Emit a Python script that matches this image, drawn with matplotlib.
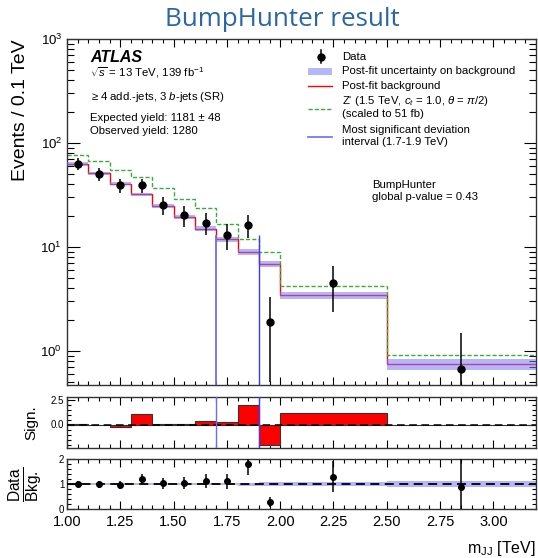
import numpy as np
import matplotlib
matplotlib.use("Agg")
import matplotlib.pyplot as plt
from matplotlib.lines import Line2D
from matplotlib.patches import Rectangle
from matplotlib.ticker import MultipleLocator, FormatStrFormatter, LogLocator, NullFormatter

plt.rcParams['font.family'] = ['Liberation Sans', 'DejaVu Sans']
plt.rcParams['mathtext.fontset'] = 'custom'
plt.rcParams['mathtext.rm'] = 'Liberation Sans'
plt.rcParams['mathtext.it'] = 'Liberation Sans:italic'
plt.rcParams['mathtext.bf'] = 'Liberation Sans:bold'

# binning (TeV)
edges = [1.0, 1.1, 1.2, 1.3, 1.4, 1.5, 1.6, 1.7, 1.8, 1.9, 2.0, 2.5, 3.2]
# post-fit background, events / 0.1 TeV
bkg = [63, 51, 40.7, 32, 24.8, 19.4, 15.0, 11.8, 8.95, 6.9, 3.43, 0.75]
bkg_rel_unc = [0.04, 0.04, 0.04, 0.04, 0.045, 0.05, 0.05, 0.055, 0.06, 0.07, 0.07, 0.12]
# Z' + background
zprime = [76, 67, 55.5, 47, 37, 29, 23.9, 16.5, 11.8, 8.9, 4.19, 0.92]
# data
data_x = [1.05, 1.15, 1.25, 1.35, 1.45, 1.55, 1.65, 1.75, 1.85, 1.95, 2.25, 2.85]
data = [63, 50, 39, 39, 25.3, 20.2, 17, 13, 16.2, 1.9, 4.45, 0.67]
data_err = [8.0, 7.1, 6.2, 6.2, 5.0, 4.5, 4.1, 3.6, 4.0, 1.4, 2.1, 0.82]
# significance per bin
significance = [0.1, -0.03, -0.2, 1.05, 0.02, 0.04, 0.33, 0.22, 1.95, -2.05, 1.12, -0.03]
# most significant deviation interval
bump_lo, bump_hi = 1.7, 1.9
bump_top = 13

edges = np.array(edges)
bkg = np.array(bkg)
rel = np.array(bkg_rel_unc)
data = np.array(data)
data_err = np.array(data_err)
widths = np.diff(edges)

W, H = 538, 558
fig = plt.figure(figsize=(W / 100, H / 100), dpi=100)


def fx(px):
    return px / W


def fy(py):
    return 1 - py / H


left, right = 67, 536
ax = fig.add_axes([fx(left), fy(385), fx(right) - fx(left), fy(39) - fy(385)])
ax_s = fig.add_axes([fx(left), fy(448), fx(right) - fx(left), fy(397) - fy(448)])
ax_r = fig.add_axes([fx(left), fy(509), fx(right) - fx(left), fy(459) - fy(509)])

band_col = '#7b7bff'
red = '#ff0000'
green = '#3cab3c'
blue = '#3a3aff'

# ---- main panel
ax.stairs(bkg, edges, color=red, lw=1.0, baseline=None, zorder=2)
ax.stairs(bkg * (1 + rel), edges, baseline=bkg * (1 - rel), fill=True,
          color=band_col, alpha=0.55, lw=0, zorder=3)
ax.stairs(zprime, edges, color=green, lw=1.0, ls=(0, (3, 1.5)), baseline=None, zorder=2)
ax.errorbar(data_x, data, yerr=data_err, fmt='o', color='black', ms=5,
            elinewidth=1.1, capsize=0, zorder=5)
ax.vlines(bump_lo, 0.01, bump_top, color='#6b6bff', lw=1.3, zorder=4)
ax.vlines(bump_hi, 0.01, bump_top, color=blue, lw=1.0, zorder=4)
ax.set_yscale('log')
ax.set_xlim(1.0, 3.2)
ax.set_ylim(0.47, 1000)

# ---- significance panel
ax_s.bar(edges[:-1], significance, width=widths, align='edge', color=red,
         edgecolor='#333333', lw=0.8, zorder=2)
ax_s.axhline(0, color='black', ls=(0, (5, 3)), lw=1.1, zorder=3)
ax_s.axvline(bump_lo, color='#6b6bff', lw=1.0, zorder=4)
ax_s.axvline(bump_hi, color='#3a3aff', lw=1.0, zorder=4)
ax_s.set_xlim(1.0, 3.2)
ax_s.set_ylim(-2.35, 2.75)

# ---- ratio panel
ratio = data / bkg
ratio_err = data_err / bkg
ax_r.stairs(1 + rel, edges, baseline=1 - rel, fill=True, color=band_col,
            alpha=0.55, lw=0, zorder=1)
ax_r.axhline(1, color='black', ls=(0, (5, 3)), lw=1.3, zorder=3)
ax_r.errorbar(data_x, ratio, yerr=ratio_err, fmt='o', color='black', ms=4,
              elinewidth=1.1, capsize=0, zorder=5)
ax_r.set_xlim(1.0, 3.2)
ax_r.set_ylim(0, 2)

# ---- ticks
for a in (ax, ax_s, ax_r):
    a.tick_params(which='both', direction='in', top=True, right=True, width=0.8)
    a.tick_params(which='major', length=6)
    a.tick_params(which='minor', length=3)
    a.xaxis.set_major_locator(MultipleLocator(0.25))
    a.xaxis.set_minor_locator(MultipleLocator(0.05))
    for sp in a.spines.values():
        sp.set_linewidth(1.0)
        sp.set_color('#333333')

ax.yaxis.set_major_locator(LogLocator(base=10, numticks=10))
ax.yaxis.set_minor_locator(LogLocator(base=10, subs=np.arange(2, 10), numticks=10))
ax.yaxis.set_minor_formatter(NullFormatter())
ax.tick_params(axis='y', which='major', length=9, labelsize=9.5)
ax.tick_params(axis='y', which='minor', length=5)
ax.tick_params(axis='x', labelbottom=False)
ax_s.tick_params(axis='x', labelbottom=False)

ax_s.yaxis.set_major_locator(MultipleLocator(2.5))
ax_s.yaxis.set_minor_locator(MultipleLocator(0.5))
ax_s.yaxis.set_major_formatter(FormatStrFormatter('%.1f'))
ax_s.tick_params(axis='y', labelsize=7, pad=2)

ax_r.yaxis.set_major_locator(MultipleLocator(1))
ax_r.yaxis.set_minor_locator(MultipleLocator(0.2))
ax_r.tick_params(axis='y', labelsize=7, pad=2)
ax_r.tick_params(axis='x', labelsize=10.5, pad=4)

# ---- axis labels
ax.set_ylabel('Events / 0.1 TeV', fontsize=14, loc='top')
ax.yaxis.set_label_coords(-0.082, 1.0)
ax_s.set_ylabel('Sign.', fontsize=11)
ax_s.yaxis.set_label_coords(-0.062, 0.5)
ax_r.set_ylabel(r'$\frac{\mathrm{Data}}{\mathrm{Bkg.}}$', fontsize=16)
ax_r.yaxis.set_label_coords(-0.046, 0.5)
fig.text(fx(right), fy(548), r'm$_{\mathrm{JJ}}$ [TeV]', fontsize=11.5, ha='right', va='center')

# ---- title
fig.text(fx(282), fy(19), 'BumpHunter result', fontsize=18.7, color='#2a67a6',
         ha='center', va='center', family='Open Sans')

# ---- ATLAS label block
fs = 8.2
fig.text(fx(90), fy(58), 'ATLAS', fontsize=11.5, weight='bold', style='italic', va='center')
fig.text(fx(90), fy(77), r'$\sqrt{s}$ = 13 TeV, 139 fb$^{-1}$', fontsize=fs, va='baseline')
fig.text(fx(90), fy(97), r'$\geq$4 add.-jets, 3 $b$-jets (SR)', fontsize=fs, va='center')
fig.text(fx(90), fy(118), 'Expected yield: 1181 \u00b1 48', fontsize=fs, va='center')
fig.text(fx(90), fy(131), 'Observed yield: 1280', fontsize=fs, va='center')

# ---- legend (drawn by hand, ROOT style)
tx = fx(342)
fig.add_artist(Line2D([fx(320.5)] * 2, [fy(50), fy(63)], color='black', lw=1.1, transform=fig.transFigure))
fig.add_artist(Line2D([fx(320.5)], [fy(56.5)], marker='o', ms=5, color='black', transform=fig.transFigure))
fig.text(tx, fy(56.5), 'Data', fontsize=fs, va='center')
fig.add_artist(Rectangle((fx(308), fy(75)), fx(332) - fx(308), fy(68.3) - fy(75),
                         color='#b6b6fb', lw=0, transform=fig.transFigure))
fig.text(tx, fy(71.5), 'Post-fit uncertainty on background', fontsize=fs, va='center')
fig.add_artist(Line2D([fx(308), fx(332)], [fy(86)] * 2, color=red, lw=1.0, transform=fig.transFigure))
fig.text(tx, fy(86), 'Post-fit background', fontsize=fs, va='center')
fig.add_artist(Line2D([fx(308), fx(332)], [fy(109)] * 2, color=green, lw=1.0, ls=(0, (3, 1.5)),
                      transform=fig.transFigure))
fig.text(tx, fy(101), r"Z' (1.5 TeV, $c_t$ = 1.0, $\theta$ = $\pi$/2)", fontsize=fs, va='center')
fig.text(tx, fy(114), '(scaled to 51 fb)', fontsize=fs, va='center')
fig.add_artist(Line2D([fx(308), fx(332)], [fy(136.5)] * 2, color='#6b6bff', lw=1.2,
                      transform=fig.transFigure))
fig.text(tx, fy(130), 'Most significant deviation', fontsize=fs, va='center')
fig.text(tx, fy(142), 'interval (1.7-1.9 TeV)', fontsize=fs, va='center')

fig.text(fx(372), fy(185), 'BumpHunter', fontsize=fs, va='center')
fig.text(fx(372), fy(197.5), 'global p-value = 0.43', fontsize=fs, va='center')

fig.savefig('out.png', dpi=100)
